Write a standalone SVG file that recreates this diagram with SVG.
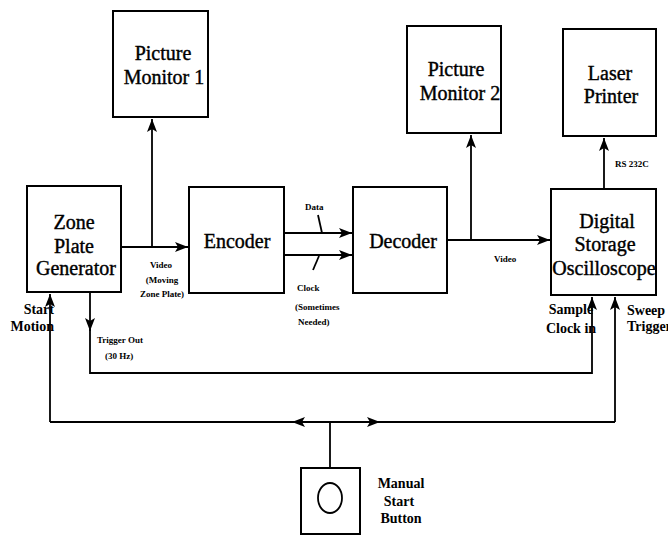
<svg xmlns="http://www.w3.org/2000/svg" width="668" height="536" viewBox="0 0 668 536">
<style>
.box{fill:#fff;stroke:#000;stroke-width:2}
.ln{fill:none;stroke:#000;stroke-width:1.8}
.t{font-family:"Liberation Serif","Times New Roman",serif;font-size:20px;fill:#000;stroke:#000;stroke-width:0.4;text-anchor:middle}
.m{font-family:"Liberation Serif","Times New Roman",serif;font-size:14px;font-weight:bold;fill:#000}
.s{font-family:"Liberation Serif","Times New Roman",serif;font-size:9px;font-weight:bold;fill:#000}
</style>
<defs>
<marker id="ah" markerUnits="userSpaceOnUse" markerWidth="14" markerHeight="10" refX="13" refY="5" orient="auto">
<path d="M0,0 L13,5 L0,10 L3,5 z" fill="#000"/>
</marker>
</defs>
<rect width="668" height="536" fill="#fff"/>
<g id="connectors">
<path class="ln" d="M152,247 V119" marker-end="url(#ah)"/>
<path class="ln" d="M121,247 H188" marker-end="url(#ah)"/>
<path class="ln" d="M284,233 H352" marker-end="url(#ah)"/>
<path class="ln" d="M284,255 H352" marker-end="url(#ah)"/>
<path class="ln" d="M318,215 L322,233"/>
<path class="ln" d="M319,256 L313,270"/>
<path class="ln" d="M447,240 H550" marker-end="url(#ah)"/>
<path class="ln" d="M471,240 V135" marker-end="url(#ah)"/>
<path class="ln" d="M604,189 V138" marker-end="url(#ah)"/>
<path class="ln" d="M90,292 V331" marker-end="url(#ah)"/>
<path class="ln" d="M90,329 V373 H592 V297" marker-end="url(#ah)"/>
<path class="ln" d="M50,422 V294" marker-end="url(#ah)"/>
<path class="ln" d="M615,422 V297" marker-end="url(#ah)"/>
<path class="ln" d="M50,422 H615"/>
<path class="ln" d="M330,422 H292" marker-end="url(#ah)"/>
<path class="ln" d="M330,422 H380" marker-end="url(#ah)"/>
<path class="ln" d="M330,422 V468"/>
</g>
<g id="picture-monitor-1">
<rect class="box" x="113" y="11" width="95" height="106"/>
<text class="t" x="163" y="60">Picture</text>
<text class="t" x="164" y="84">Monitor 1</text>
</g>
<g id="zone-plate-generator">
<rect class="box" x="27" y="186" width="94" height="106"/>
<text class="t" x="74" y="229">Zone</text>
<text class="t" x="74" y="253">Plate</text>
<text class="t" x="76" y="275">Generator</text>
</g>
<g id="encoder">
<rect class="box" x="189" y="187" width="95" height="106"/>
<text class="t" x="237" y="248">Encoder</text>
</g>
<g id="decoder">
<rect class="box" x="353" y="187" width="94" height="106"/>
<text class="t" x="403" y="248">Decoder</text>
</g>
<g id="picture-monitor-2">
<rect class="box" x="407" y="26" width="94" height="107"/>
<text class="t" x="456" y="76">Picture</text>
<text class="t" x="460" y="100">Monitor 2</text>
</g>
<g id="laser-printer">
<rect class="box" x="563" y="29" width="93" height="107"/>
<text class="t" x="610" y="80">Laser</text>
<text class="t" x="611" y="103">Printer</text>
</g>
<g id="digital-storage-oscilloscope">
<rect class="box" x="551" y="189" width="105" height="106"/>
<text class="t" x="607" y="228">Digital</text>
<text class="t" x="605" y="251">Storage</text>
<text class="t" x="604" y="275">Oscilloscope</text>
</g>
<g id="manual-start-button">
<rect class="box" x="301" y="468" width="59" height="66"/>
<ellipse cx="330" cy="498" rx="12" ry="15" fill="none" stroke="#000" stroke-width="1.8"/>
<text class="m" x="401" y="488" text-anchor="middle">Manual</text>
<text class="m" x="399" y="506" text-anchor="middle">Start</text>
<text class="m" x="401" y="523" text-anchor="middle">Button</text>
</g>
<g id="labels">
<text class="s" x="161" y="268" text-anchor="middle">Video</text>
<text class="s" x="162" y="283" text-anchor="middle">(Moving</text>
<text class="s" x="162" y="297" text-anchor="middle">Zone Plate)</text>
<text class="s" x="305" y="210">Data</text>
<text class="s" x="297" y="291">Clock</text>
<text class="s" x="295" y="310">(Sometimes</text>
<text class="s" x="298" y="325">Needed)</text>
<text class="s" x="494" y="262">Video</text>
<text class="s" x="615" y="167">RS 232C</text>
<text class="s" x="97" y="343">Trigger Out</text>
<text class="s" x="105" y="359">(30 Hz)</text>
<text class="m" x="54" y="314" text-anchor="end">Start</text>
<text class="m" x="54" y="331" text-anchor="end">Motion</text>
<text class="m" x="571" y="314" text-anchor="middle">Sample</text>
<text class="m" x="571" y="333" text-anchor="middle">Clock in</text>
<text class="m" x="627" y="315">Sweep</text>
<text class="m" x="627" y="331">Trigger</text>
</g>
</svg>
